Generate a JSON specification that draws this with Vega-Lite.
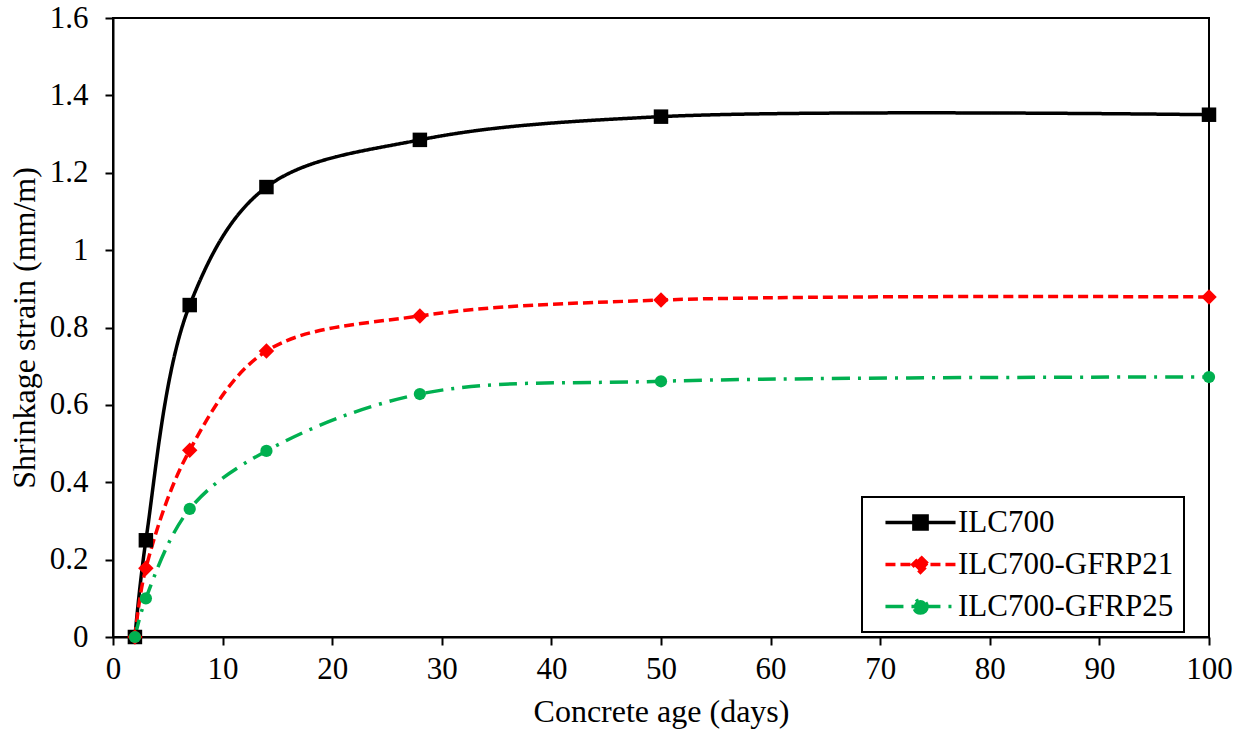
{
  "$schema": "https://vega.github.io/schema/vega-lite/v6.json",
  "width": 1096,
  "height": 619,
  "autosize": {"type": "none"},
  "padding": {"left": 113, "top": 18, "right": 37, "bottom": 101},
  "background": "white",
  "config": {
    "view": {"stroke": "black", "strokeWidth": 2}
  },
  "data": {
    "values": [
      {"series": "ILC700", "age": 2, "strain": 0},
      {"series": "ILC700", "age": 3, "strain": 0.25},
      {"series": "ILC700", "age": 7, "strain": 0.858},
      {"series": "ILC700", "age": 14, "strain": 1.163},
      {"series": "ILC700", "age": 28, "strain": 1.285},
      {"series": "ILC700", "age": 50, "strain": 1.345},
      {"series": "ILC700", "age": 100, "strain": 1.35},
      {"series": "ILC700-GFRP21", "age": 2, "strain": 0},
      {"series": "ILC700-GFRP21", "age": 3, "strain": 0.178},
      {"series": "ILC700-GFRP21", "age": 7, "strain": 0.483},
      {"series": "ILC700-GFRP21", "age": 14, "strain": 0.739},
      {"series": "ILC700-GFRP21", "age": 28, "strain": 0.83},
      {"series": "ILC700-GFRP21", "age": 50, "strain": 0.871},
      {"series": "ILC700-GFRP21", "age": 100, "strain": 0.879},
      {"series": "ILC700-GFRP25", "age": 2, "strain": 0},
      {"series": "ILC700-GFRP25", "age": 3, "strain": 0.1},
      {"series": "ILC700-GFRP25", "age": 7, "strain": 0.331},
      {"series": "ILC700-GFRP25", "age": 14, "strain": 0.481},
      {"series": "ILC700-GFRP25", "age": 28, "strain": 0.628},
      {"series": "ILC700-GFRP25", "age": 50, "strain": 0.661},
      {"series": "ILC700-GFRP25", "age": 100, "strain": 0.672}
    ]
  },
  "encoding": {
    "x": {
      "field": "age",
      "type": "quantitative",
      "scale": {"domain": [0, 100], "nice": false},
      "axis": {
        "values": [0, 10, 20, 30, 40, 50, 60, 70, 80, 90, 100],
        "title": "Concrete age (days)",
        "grid": false,
        "labelFlush": false,
        "domainColor": "black", "domainWidth": 2,
        "tickColor": "black", "tickWidth": 2, "tickSize": 8,
        "labelFont": "Liberation Serif", "labelFontSize": 31, "labelColor": "black", "labelPadding": 9,
        "titleFont": "Liberation Serif", "titleFontSize": 32, "titleFontWeight": "normal", "titleColor": "black", "titlePadding": 12
      }
    },
    "y": {
      "field": "strain",
      "type": "quantitative",
      "scale": {"domain": [0, 1.6], "nice": false},
      "axis": {
        "values": [0, 0.2, 0.4, 0.6, 0.8, 1, 1.2, 1.4, 1.6],
        "format": ".1~f",
        "title": "Shrinkage strain (mm/m)",
        "grid": false,
        "labelFlush": false,
        "domainColor": "black", "domainWidth": 2,
        "tickColor": "black", "tickWidth": 2, "tickSize": 8,
        "labelFont": "Liberation Serif", "labelFontSize": 31, "labelColor": "black", "labelPadding": 17,
        "titleFont": "Liberation Serif", "titleFontSize": 32, "titleFontWeight": "normal", "titleColor": "black", "titlePadding": 8
      }
    }
  },
  "layer": [
    {
      "mark": {"type": "line", "interpolate": "catmull-rom", "strokeWidth": 3.5},
      "encoding": {
        "color": {
          "field": "series",
          "type": "nominal",
          "scale": {"domain": ["ILC700", "ILC700-GFRP21", "ILC700-GFRP25"], "range": ["#000000", "#FF0000", "#00B050"]},
          "legend": {
            "orient": "none",
            "legendX": 749,
            "legendY": 479,
            "title": null,
            "strokeColor": "black",
            "fillColor": "white",
            "padding": 10,
            "labelFont": "Liberation Serif",
            "labelFontSize": 31,
            "labelColor": "black",
            "labelLimit": 400,
            "symbolSize": 576,
            "symbolStrokeWidth": 3.5,
            "rowPadding": 10,
            "labelOffset": 55,
            "encode": {
              "legend": {"update": {"strokeWidth": {"value": 2}}},
              "symbols": {
                "update": {
                  "shape": {"signal": "datum.value === 'ILC700' ? 'M-0.17,0H5.67M2.2,-0.55H3.3V0.55H2.2Z' : datum.value === 'ILC700-GFRP21' ? 'M-0.17,0H5.67M2.75,-0.65L3.4,0L2.75,0.65L2.1,0Z' : 'M-0.17,0H5.67M3.3,0A0.55,0.55 0 1,1 2.2,0A0.55,0.55 0 1,1 3.3,0Z'"},
                  "fill": {"signal": "datum.value === 'ILC700' ? '#000000' : datum.value === 'ILC700-GFRP21' ? '#FF0000' : '#00B050'"}
                }
              }
            }
          }
        },
        "strokeDash": {
          "field": "series",
          "type": "nominal",
          "scale": {"domain": ["ILC700", "ILC700-GFRP21", "ILC700-GFRP25"], "range": [[1, 0], [10, 5], [18, 8, 3, 8]]}
        }
      }
    },
    {
      "transform": [{"filter": "datum.series === 'ILC700'"}],
      "mark": {"type": "point", "filled": true, "opacity": 1, "shape": "square", "size": 210, "color": "#000000"},
      "encoding": {}
    },
    {
      "transform": [{"filter": "datum.series === 'ILC700-GFRP21'"}],
      "mark": {"type": "point", "filled": true, "opacity": 1, "shape": "diamond", "size": 240, "color": "#FF0000"},
      "encoding": {}
    },
    {
      "transform": [{"filter": "datum.series === 'ILC700-GFRP25'"}],
      "mark": {"type": "point", "filled": true, "opacity": 1, "shape": "circle", "size": 150, "color": "#00B050"},
      "encoding": {}
    }
  ]
}
